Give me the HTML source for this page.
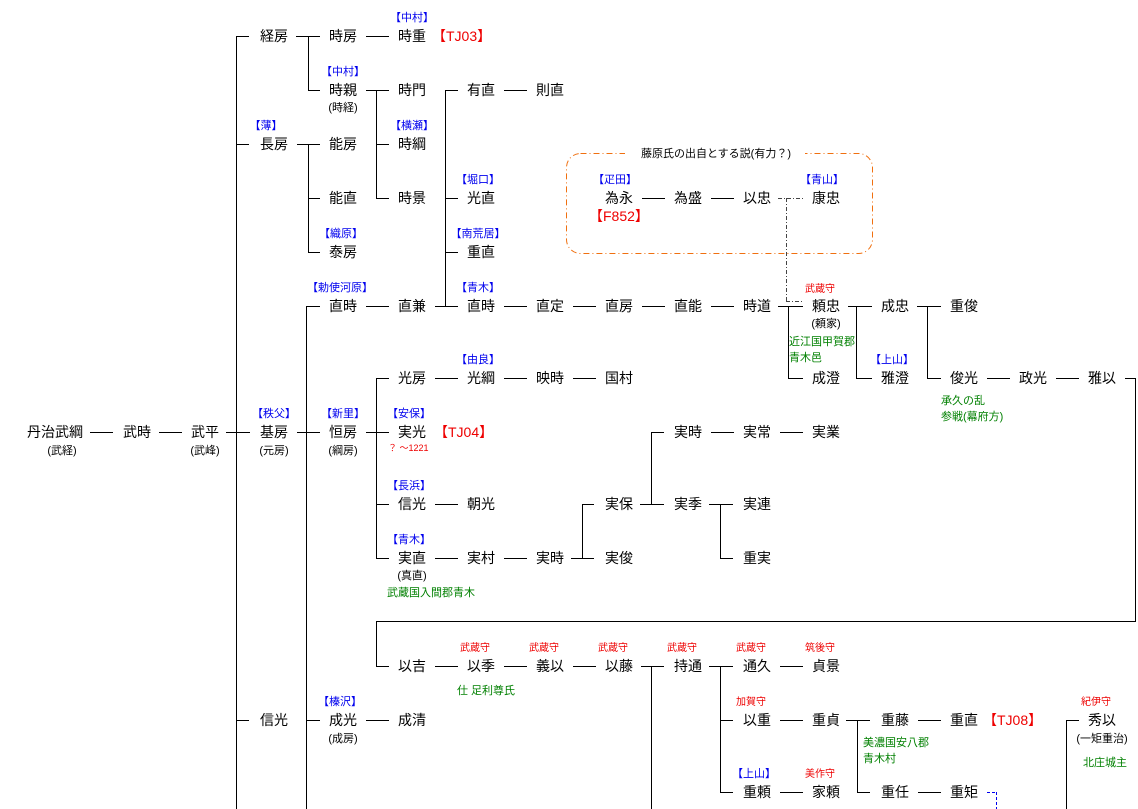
<!DOCTYPE html>
<html><head><meta charset="utf-8"><style>
html,body{margin:0;padding:0;background:#fff;}
svg{display:block;font-family:"Liberation Sans","Noto Sans CJK JP","WenQuanYi Zen Hei",sans-serif;}
.n{font-size:14px;fill:#000;text-anchor:middle;}
.s{font-size:11px;fill:#000;text-anchor:middle;}
.b{font-size:11px;fill:#0000ee;text-anchor:middle;}
.r{font-size:10px;fill:#ee0000;text-anchor:middle;}
.t{font-size:14px;fill:#ee0000;}
.g{font-size:11px;fill:#008000;}
line{stroke:#000;stroke-width:1;}
</style></head><body>
<svg width="1138" height="809" viewBox="0 0 1138 809" xmlns="http://www.w3.org/2000/svg">
<g shape-rendering="crispEdges">
<!-- main verticals -->
<line x1="236.5" y1="36" x2="236.5" y2="809"/>
<line x1="236" y1="36.5" x2="249" y2="36.5"/>
<line x1="236" y1="144.5" x2="249" y2="144.5"/>
<line x1="236" y1="720.5" x2="249" y2="720.5"/>
<line x1="226" y1="432.5" x2="250" y2="432.5"/>
<line x1="159" y1="432.5" x2="182" y2="432.5"/>
<line x1="90" y1="432.5" x2="113" y2="432.5"/>
<!-- 経房 -->
<line x1="296" y1="36.5" x2="320" y2="36.5"/>
<line x1="308.5" y1="36" x2="308.5" y2="90"/>
<line x1="308" y1="90.5" x2="320" y2="90.5"/>
<line x1="366" y1="36.5" x2="389" y2="36.5"/>
<!-- 長房 -->
<line x1="297" y1="144.5" x2="320" y2="144.5"/>
<line x1="308.5" y1="144" x2="308.5" y2="252"/>
<line x1="308" y1="198.5" x2="320" y2="198.5"/>
<line x1="308" y1="252.5" x2="320" y2="252.5"/>
<!-- 時親 -->
<line x1="366" y1="90.5" x2="389" y2="90.5"/>
<line x1="376.5" y1="90" x2="376.5" y2="198"/>
<line x1="376" y1="144.5" x2="389" y2="144.5"/>
<line x1="376" y1="198.5" x2="389" y2="198.5"/>
<line x1="504" y1="90.5" x2="527" y2="90.5"/>
<!-- 直兼 -->
<line x1="445.5" y1="90" x2="445.5" y2="306"/>
<line x1="445" y1="90.5" x2="458" y2="90.5"/>
<line x1="445" y1="198.5" x2="458" y2="198.5"/>
<line x1="445" y1="252.5" x2="458" y2="252.5"/>
<line x1="435" y1="306.5" x2="458" y2="306.5"/>
<line x1="366" y1="306.5" x2="389" y2="306.5"/>
<!-- 基房 vertical -->
<line x1="306.5" y1="306" x2="306.5" y2="809"/>
<line x1="306" y1="306.5" x2="320" y2="306.5"/>
<line x1="306" y1="720.5" x2="320" y2="720.5"/>
<line x1="297" y1="432.5" x2="320" y2="432.5"/>
<line x1="366" y1="720.5" x2="389" y2="720.5"/>
<!-- 青木 line -->
<line x1="504" y1="306.5" x2="527" y2="306.5"/>
<line x1="573" y1="306.5" x2="596" y2="306.5"/>
<line x1="642" y1="306.5" x2="665" y2="306.5"/>
<line x1="711" y1="306.5" x2="734" y2="306.5"/>
<line x1="778" y1="306.5" x2="803" y2="306.5"/>
<line x1="788.5" y1="306" x2="788.5" y2="378"/>
<line x1="788" y1="378.5" x2="803" y2="378.5"/>
<line x1="848" y1="306.5" x2="872" y2="306.5"/>
<line x1="856.5" y1="306" x2="856.5" y2="378"/>
<line x1="856" y1="378.5" x2="872" y2="378.5"/>
<line x1="917" y1="306.5" x2="941" y2="306.5"/>
<line x1="927.5" y1="306" x2="927.5" y2="378"/>
<line x1="927" y1="378.5" x2="941" y2="378.5"/>
<line x1="987" y1="378.5" x2="1010" y2="378.5"/>
<line x1="1056" y1="378.5" x2="1079" y2="378.5"/>
<line x1="1125" y1="378.5" x2="1135" y2="378.5"/>
<line x1="1135.5" y1="378" x2="1135.5" y2="621"/>
<line x1="376" y1="621.5" x2="1136" y2="621.5"/>
<line x1="376.5" y1="621" x2="376.5" y2="666"/>
<line x1="376" y1="666.5" x2="389" y2="666.5"/>
<!-- 恒房 -->
<line x1="366" y1="432.5" x2="389" y2="432.5"/>
<line x1="376.5" y1="378" x2="376.5" y2="558"/>
<line x1="376" y1="378.5" x2="389" y2="378.5"/>
<line x1="376" y1="504.5" x2="389" y2="504.5"/>
<line x1="376" y1="558.5" x2="389" y2="558.5"/>
<line x1="435" y1="378.5" x2="458" y2="378.5"/>
<line x1="504" y1="378.5" x2="527" y2="378.5"/>
<line x1="573" y1="378.5" x2="596" y2="378.5"/>
<line x1="435" y1="504.5" x2="458" y2="504.5"/>
<line x1="435" y1="558.5" x2="458" y2="558.5"/>
<line x1="504" y1="558.5" x2="527" y2="558.5"/>
<line x1="571" y1="558.5" x2="594" y2="558.5"/>
<line x1="582.5" y1="504" x2="582.5" y2="558"/>
<line x1="582" y1="504.5" x2="594" y2="504.5"/>
<line x1="640" y1="504.5" x2="664" y2="504.5"/>
<line x1="651.5" y1="432" x2="651.5" y2="504"/>
<line x1="651" y1="432.5" x2="664" y2="432.5"/>
<line x1="711" y1="432.5" x2="734" y2="432.5"/>
<line x1="780" y1="432.5" x2="803" y2="432.5"/>
<line x1="709" y1="504.5" x2="733" y2="504.5"/>
<line x1="720.5" y1="504" x2="720.5" y2="558"/>
<line x1="720" y1="558.5" x2="733" y2="558.5"/>
<!-- 為永 -->
<line x1="642" y1="198.5" x2="665" y2="198.5"/>
<line x1="711" y1="198.5" x2="734" y2="198.5"/>
<!-- 以吉 row -->
<line x1="435" y1="666.5" x2="458" y2="666.5"/>
<line x1="504" y1="666.5" x2="527" y2="666.5"/>
<line x1="573" y1="666.5" x2="596" y2="666.5"/>
<line x1="641" y1="666.5" x2="664" y2="666.5"/>
<line x1="651.5" y1="666" x2="651.5" y2="809"/>
<line x1="709" y1="666.5" x2="733" y2="666.5"/>
<line x1="720.5" y1="666" x2="720.5" y2="792"/>
<line x1="720" y1="720.5" x2="733" y2="720.5"/>
<line x1="720" y1="792.5" x2="733" y2="792.5"/>
<line x1="780" y1="666.5" x2="803" y2="666.5"/>
<line x1="780" y1="720.5" x2="803" y2="720.5"/>
<line x1="780" y1="792.5" x2="803" y2="792.5"/>
<line x1="846" y1="720.5" x2="870" y2="720.5"/>
<line x1="857.5" y1="720" x2="857.5" y2="792"/>
<line x1="857" y1="792.5" x2="870" y2="792.5"/>
<line x1="918" y1="720.5" x2="941" y2="720.5"/>
<line x1="918" y1="792.5" x2="941" y2="792.5"/>
<line x1="1066.5" y1="720" x2="1066.5" y2="809"/>
<line x1="1066" y1="720.5" x2="1079" y2="720.5"/>
<!-- dashed -->
<line x1="778" y1="198.5" x2="803" y2="198.5" stroke-dasharray="4,2,1,2" style="stroke:#444"/>
<line x1="786.5" y1="198" x2="786.5" y2="302" stroke-dasharray="4,2,1,2" style="stroke:#444"/>
<line x1="786" y1="301.5" x2="803" y2="301.5" stroke-dasharray="4,2,1,2" style="stroke:#444"/>
<line x1="987" y1="792.5" x2="996" y2="792.5" stroke-dasharray="3,2" style="stroke:#0000ee"/>
<line x1="996.5" y1="792" x2="996.5" y2="809" stroke-dasharray="3,2" style="stroke:#0000ee"/>
</g>
<rect x="566.5" y="153.5" width="306" height="100" rx="14" ry="14" fill="none" stroke="#f07010" stroke-width="1" stroke-dasharray="6,3,1,3"/>
<rect x="625" y="145" width="180" height="16" fill="#fff"/>
<text class="s" x="716" y="157">藤原氏の出自とする説(有力？)</text>

<!-- names -->
<text class="n" x="55" y="437">丹治武綱</text><text class="s" x="62" y="454">(武経)</text>
<text class="n" x="137" y="437">武時</text>
<text class="n" x="205" y="437">武平</text><text class="s" x="205" y="454">(武峰)</text>
<text class="n" x="274" y="437">基房</text><text class="b" x="274" y="417">【秩父】</text><text class="s" x="274" y="454">(元房)</text>
<text class="n" x="343" y="437">恒房</text><text class="b" x="343" y="417">【新里】</text><text class="s" x="343" y="454">(綱房)</text>

<text class="n" x="274" y="41">経房</text>
<text class="n" x="343" y="41">時房</text>
<text class="n" x="412" y="41">時重</text><text class="b" x="412" y="21">【中村】</text>
<text class="t" x="432" y="41">【TJ03】</text>
<text class="n" x="343" y="95">時親</text><text class="b" x="343" y="75">【中村】</text><text class="s" x="343" y="111">(時経)</text>
<text class="n" x="412" y="95">時門</text>
<text class="n" x="481" y="95">有直</text>
<text class="n" x="550" y="95">則直</text>
<text class="n" x="274" y="149">長房</text><text class="b" x="266" y="129">【薄】</text>
<text class="n" x="343" y="149">能房</text>
<text class="n" x="412" y="149">時綱</text><text class="b" x="412" y="129">【横瀬】</text>
<text class="n" x="343" y="203">能直</text>
<text class="n" x="412" y="203">時景</text>
<text class="n" x="481" y="203">光直</text><text class="b" x="478" y="183">【堀口】</text>
<text class="n" x="343" y="257">泰房</text><text class="b" x="341" y="237">【織原】</text>
<text class="n" x="481" y="257">重直</text><text class="b" x="478" y="237">【南荒居】</text>

<text class="n" x="619" y="203">為永</text><text class="b" x="615" y="183">【疋田】</text>
<text class="t" x="589" y="221">【F852】</text>
<text class="n" x="688" y="203">為盛</text>
<text class="n" x="757" y="203">以忠</text>
<text class="n" x="826" y="203">康忠</text><text class="b" x="822" y="183">【青山】</text>

<text class="n" x="343" y="311">直時</text><text class="b" x="340" y="291">【勅使河原】</text>
<text class="n" x="412" y="311">直兼</text>
<text class="n" x="481" y="311">直時</text><text class="b" x="478" y="291">【青木】</text>
<text class="n" x="550" y="311">直定</text>
<text class="n" x="619" y="311">直房</text>
<text class="n" x="688" y="311">直能</text>
<text class="n" x="757" y="311">時道</text>
<text class="n" x="826" y="311">頼忠</text><text class="r" x="820" y="292">武蔵守</text><text class="s" x="826" y="327">(頼家)</text>
<text class="g" x="789" y="345">近江国甲賀郡</text><text class="g" x="789" y="361">青木邑</text>
<text class="n" x="895" y="311">成忠</text>
<text class="n" x="964" y="311">重俊</text>

<text class="n" x="412" y="383">光房</text>
<text class="n" x="481" y="383">光綱</text><text class="b" x="478" y="363">【由良】</text>
<text class="n" x="550" y="383">映時</text>
<text class="n" x="619" y="383">国村</text>
<text class="n" x="826" y="383">成澄</text>
<text class="n" x="895" y="383">雅澄</text><text class="b" x="892" y="363">【上山】</text>
<text class="n" x="964" y="383">俊光</text>
<text class="n" x="1033" y="383">政光</text>
<text class="n" x="1102" y="383">雅以</text>
<text class="g" x="941" y="404">承久の乱</text><text class="g" x="941" y="420">参戦(幕府方)</text>

<text class="n" x="412" y="437">実光</text><text class="b" x="409" y="417">【安保】</text>
<text class="t" x="434" y="437">【TJ04】</text>
<text x="388" y="451" style="font-size:9px;fill:#ee0000">？ ～1221</text>
<text class="n" x="688" y="437">実時</text>
<text class="n" x="757" y="437">実常</text>
<text class="n" x="826" y="437">実業</text>

<text class="n" x="412" y="509">信光</text><text class="b" x="409" y="489">【長浜】</text>
<text class="n" x="481" y="509">朝光</text>
<text class="n" x="619" y="509">実保</text>
<text class="n" x="688" y="509">実季</text>
<text class="n" x="757" y="509">実連</text>

<text class="n" x="412" y="563">実直</text><text class="b" x="409" y="543">【青木】</text><text class="s" x="412" y="579">(真直)</text>
<text class="g" x="387" y="596">武蔵国入間郡青木</text>
<text class="n" x="481" y="563">実村</text>
<text class="n" x="550" y="563">実時</text>
<text class="n" x="619" y="563">実俊</text>
<text class="n" x="757" y="563">重実</text>

<text class="n" x="412" y="671">以吉</text>
<text class="n" x="481" y="671">以季</text><text class="r" x="475" y="651">武蔵守</text>
<text class="g" x="457" y="694">仕 足利尊氏</text>
<text class="n" x="550" y="671">義以</text><text class="r" x="544" y="651">武蔵守</text>
<text class="n" x="619" y="671">以藤</text><text class="r" x="613" y="651">武蔵守</text>
<text class="n" x="688" y="671">持通</text><text class="r" x="682" y="651">武蔵守</text>
<text class="n" x="757" y="671">通久</text><text class="r" x="751" y="651">武蔵守</text>
<text class="n" x="826" y="671">貞景</text><text class="r" x="820" y="651">筑後守</text>

<text class="n" x="274" y="725">信光</text>
<text class="n" x="343" y="725">成光</text><text class="b" x="340" y="705">【榛沢】</text><text class="s" x="343" y="742">(成房)</text>
<text class="n" x="412" y="725">成清</text>
<text class="n" x="757" y="725">以重</text><text class="r" x="751" y="705">加賀守</text>
<text class="n" x="826" y="725">重貞</text>
<text class="n" x="895" y="725">重藤</text>
<text class="g" x="863" y="746">美濃国安八郡</text><text class="g" x="863" y="762">青木村</text>
<text class="n" x="964" y="725">重直</text>
<text class="t" x="983" y="725">【TJ08】</text>
<text class="n" x="1102" y="725">秀以</text><text class="r" x="1096" y="705">紀伊守</text><text class="s" x="1102" y="742">(一矩重治)</text>
<text class="g" x="1105" y="766" text-anchor="middle">北庄城主</text>

<text class="n" x="757" y="797">重頼</text><text class="b" x="754" y="777">【上山】</text>
<text class="n" x="826" y="797">家頼</text><text class="r" x="820" y="777">美作守</text>
<text class="n" x="895" y="797">重任</text>
<text class="n" x="964" y="797">重矩</text>
</svg>
</body></html>
